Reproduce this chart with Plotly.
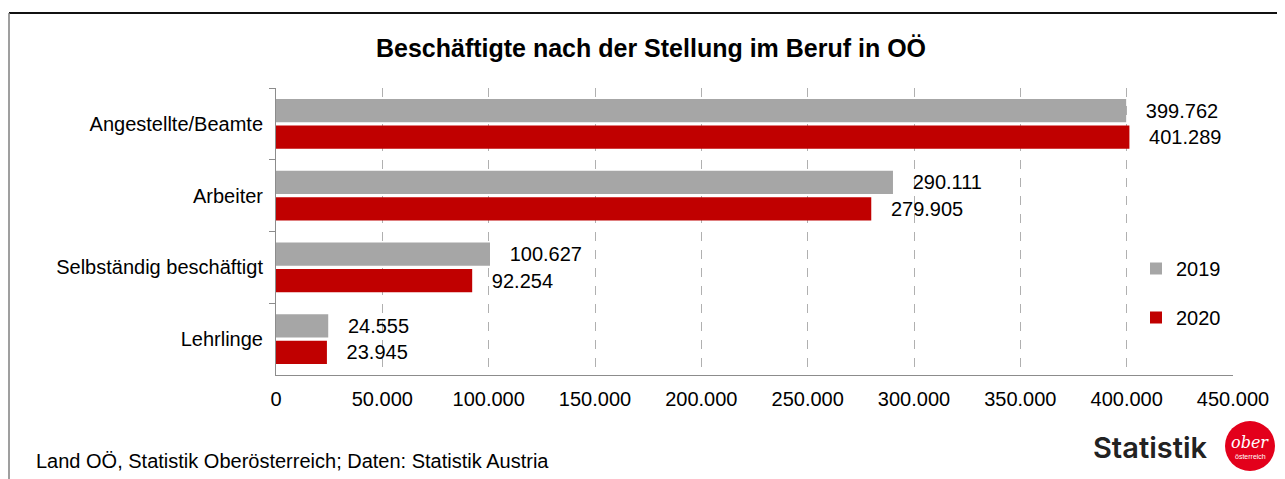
import plotly.graph_objects as go

categories = ["Angestellte/Beamte", "Arbeiter", "Selbständig beschäftigt", "Lehrlinge"]
values_2019 = [399762, 290111, 100627, 24555]
values_2020 = [401289, 279905, 92254, 23945]
series_names = ["2019", "2020"]
tick_values = [0, 50000, 100000, 150000, 200000, 250000, 300000, 350000, 400000, 450000]

# page body adds an 8px margin; design in reference pixel coords and shift by OFF
OFF = 8
W, H = 1285 - OFF, 479 - OFF
PL, PR, PT, PB = 276, 1233, 88, 375          # plot area in reference coords
L, R, T, B = PL - OFF, W - (PR - OFF), PT - OFF, H - (PB - OFF)
pw, ph = W - L - R, H - T - B

def px(x):
    return (x - OFF - L) / pw

def py(y):
    return (H - B - (y - OFF)) / ph

FONT = "Liberation Sans, Arial, sans-serif"
NB = "\u00a0\u00a0\u00a0"

fig = go.Figure()
fig.add_trace(go.Bar(
    y=categories, x=values_2019, name=series_names[0], orientation="h",
    marker=dict(color="#a6a6a6", line=dict(width=0)),
    texttemplate=NB + "%{x:,.0f}", textposition="outside",
    textfont=dict(size=20, color="#000000", family=FONT),
    cliponaxis=False, legendgroup="a",
))
fig.add_trace(go.Bar(
    y=categories, x=values_2020, name=series_names[1], orientation="h",
    marker=dict(color="#c00000", line=dict(width=0)),
    texttemplate=NB + "%{x:,.0f}", textposition="outside",
    textfont=dict(size=20, color="#000000", family=FONT),
    cliponaxis=False, legendgroup="b",
))

fig.update_layout(
    width=W, height=H,
    margin=dict(l=L, r=R, t=T, b=B, autoexpand=False),
    paper_bgcolor="white", plot_bgcolor="white",
    separators=",.",
    barmode="group", bargap=0.26, bargroupgap=0.13,
    font=dict(family=FONT, size=20, color="#000000"),
    title=dict(text="<b>Beschäftigte nach der Stellung im Beruf in OÖ</b>",
               x=(651 - OFF) / W, xref="container", xanchor="center",
               y=1 - (48 - OFF) / H, yref="container", yanchor="middle",
               font=dict(size=25, family=FONT, color="#000000")),
    legend=dict(x=px(1136), xanchor="left", y=py(249), yanchor="top",
                traceorder="grouped", tracegroupgap=20,
                font=dict(size=20, family=FONT), itemwidth=30,
                bgcolor="rgba(0,0,0,0)"),
    showlegend=True,
    xaxis=dict(range=[0, 450000], tickvals=tick_values, tickformat=",",
               showgrid=True, gridcolor="#b0b0b0", griddash="dash", gridwidth=1,
               showline=True, linecolor="#8c8c8c", linewidth=1,
               ticks="", zeroline=False, ticklabelstandoff=6,
               tickfont=dict(size=20, family=FONT)),
    yaxis=dict(autorange="reversed", showline=True, linecolor="#8c8c8c", linewidth=1,
               ticks="outside", tickson="boundaries", ticklen=6, tickcolor="#8c8c8c",
               ticklabelstandoff=8, tickfont=dict(size=20, family=FONT),
               showgrid=False),
)

shapes = [
    dict(type="line", xref="paper", yref="paper", x0=px(9), x1=px(1300), y0=py(13), y1=py(13),
         line=dict(color="#111111", width=2)),
    dict(type="line", xref="paper", yref="paper", x0=px(9), x1=px(9), y0=py(13), y1=py(495),
         line=dict(color="#7f7f7f", width=1.5)),
    dict(type="circle", xref="paper", yref="paper", x0=px(1225), x1=px(1275), y0=py(421), y1=py(471),
         fillcolor="#e3001b", line=dict(width=0), layer="above"),
]
fig.update_layout(shapes=shapes)

annotations = [
    dict(text="Land OÖ, Statistik Oberösterreich; Daten: Statistik Austria",
         xref="paper", yref="paper", x=px(34), y=py(461), xanchor="left", yanchor="middle",
         showarrow=False, font=dict(size=20, family=FONT, color="#000000")),
    dict(text="Statistik", xref="paper", yref="paper", x=px(1209), y=py(447),
         xanchor="right", yanchor="middle", showarrow=False,
         font=dict(size=29, family="Inter, sans-serif", color="#222222", weight=600)),
    dict(text="<i>ober</i>", xref="paper", yref="paper", x=px(1250), y=py(442),
         xanchor="center", yanchor="middle", showarrow=False,
         font=dict(size=16, family="DejaVu Serif, serif", color="#ffffff")),
    dict(text="österreich", xref="paper", yref="paper", x=px(1250), y=py(456),
         xanchor="center", yanchor="middle", showarrow=False,
         font=dict(size=7, family=FONT, color="#ffffff")),
]
fig.update_layout(annotations=annotations)

fig.write_html("out.html")
